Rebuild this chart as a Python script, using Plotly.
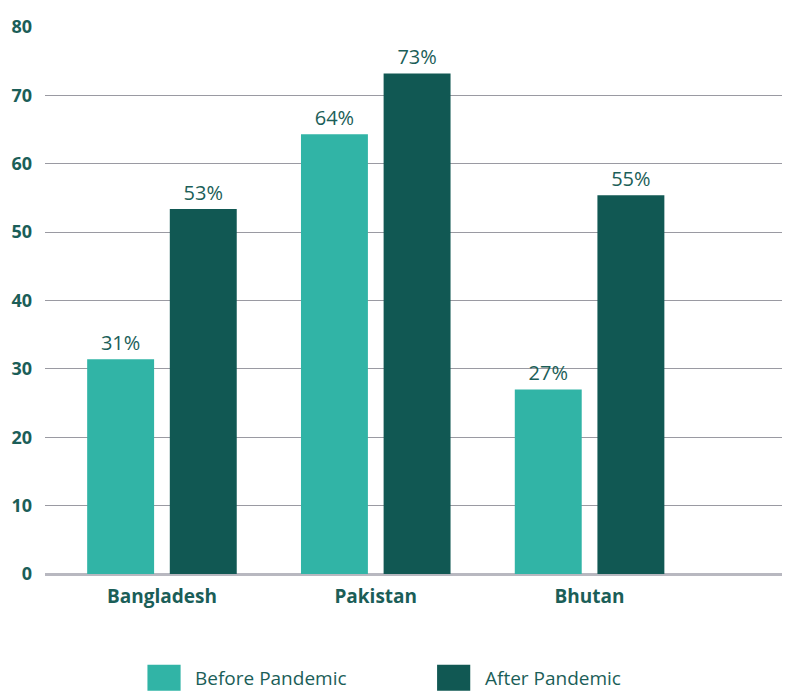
import plotly.graph_objects as go

countries = ["Bangladesh", "Pakistan", "Bhutan"]
before_pandemic = [31.4, 64.3, 27.0]
after_pandemic = [53.4, 73.2, 55.4]
y_ticks = [0, 10, 20, 30, 40, 50, 60, 70, 80]

TEAL = "#31B4A6"
DARK = "#115853"
TEXT = "#1B5E58"
FONT = "Open Sans"

fig = go.Figure()
fig.add_trace(go.Bar(
    name="Before Pandemic", x=countries, y=before_pandemic,
    marker=dict(color=TEAL, line=dict(width=0)),
    texttemplate="%{y:.0f}%", textposition="outside",
    textfont=dict(family=FONT, size=20, color=TEXT), cliponaxis=False,
    showlegend=False,
))
fig.add_trace(go.Bar(
    name="After Pandemic", x=countries, y=after_pandemic,
    marker=dict(color=DARK, line=dict(width=0)),
    texttemplate="%{y:.0f}%", textposition="outside",
    textfont=dict(family=FONT, size=20, color=TEXT), cliponaxis=False,
    showlegend=False,
))

# Legend drawn as swatches + labels below the plot
legend_items = [("Before Pandemic", TEAL, 0.139), ("After Pandemic", DARK, 0.532)]
for label, color, x0 in legend_items:
    fig.add_shape(type="rect", xref="paper", yref="paper",
                  x0=x0, x1=x0 + 0.045, y0=-0.2135, y1=-0.166,
                  fillcolor=color, line=dict(width=0))
    fig.add_annotation(xref="paper", yref="paper", x=x0 + 0.062, y=-0.19,
                       text=label, showarrow=False, xanchor="left", yanchor="middle",
                       font=dict(family=FONT, size=19, color=TEXT))

fig.update_layout(
    width=790, height=691,
    margin=dict(l=45, r=8, t=27, b=117),
    paper_bgcolor="white", plot_bgcolor="white",
    barmode="group", bargap=0.227, bargroupgap=0.19,
    font=dict(family=FONT, color=TEXT),
    xaxis=dict(
        range=[-0.547, 2.90], showgrid=False, zeroline=False,
        showline=False, ticks="", ticklabelstandoff=9,
        tickfont=dict(family=FONT, size=19, color=TEXT, weight="bold"),
    ),
    yaxis=dict(
        range=[0, 80], tickvals=y_ticks, showgrid=True,
        gridcolor="#9a9aa2", gridwidth=1.2, zeroline=True,
        zerolinecolor="#b8b8c0", zerolinewidth=2.5, showline=False,
        ticks="", ticklabelstandoff=12,
        tickfont=dict(family=FONT, size=18, color=TEXT, weight="bold"),
    ),
)

fig.write_html("out.html")
